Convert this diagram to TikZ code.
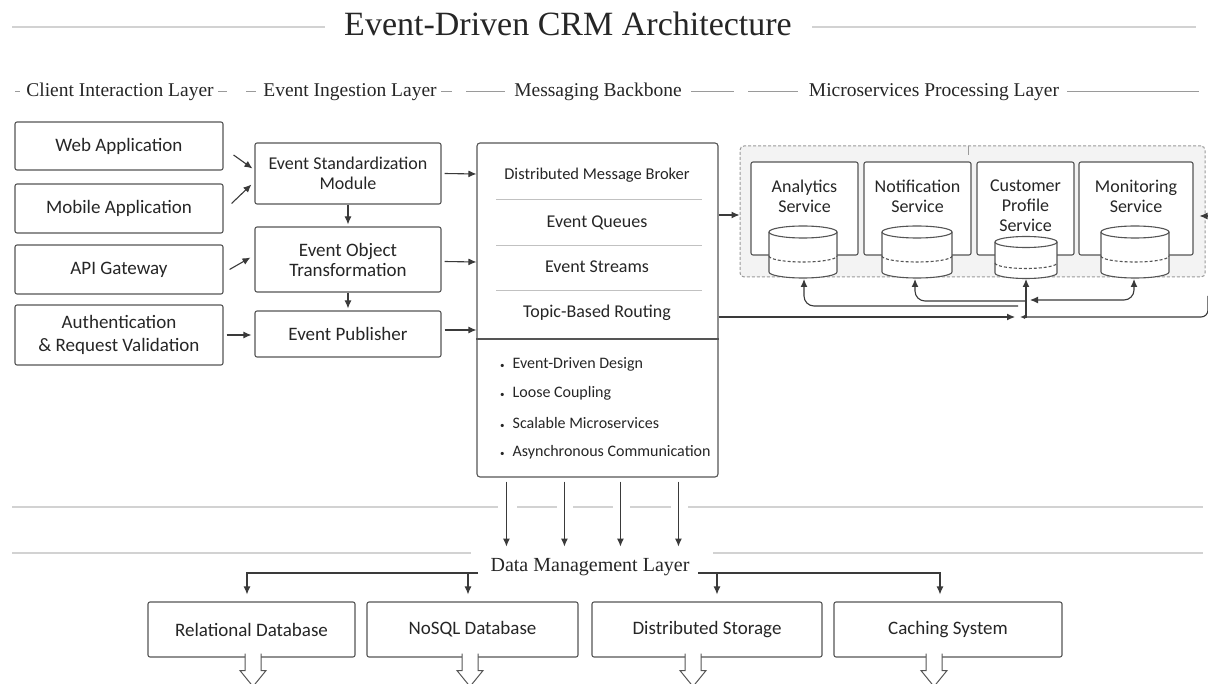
\documentclass[tikz,border=0pt]{standalone}
\usepackage{fontspec}
\setmainfont{Carlito}
\newfontfamily\hdfont{Liberation Serif}
\usetikzlibrary{arrows.meta,calc}
\definecolor{boxc}{HTML}{555555}
\definecolor{txtc}{HTML}{262626}
\definecolor{arrc}{HTML}{3A3A3A}
\definecolor{rulec}{HTML}{D2D2D2}
\definecolor{dashc}{HTML}{9A9A9A}
\definecolor{contfill}{HTML}{F3F3F3}
\newcommand{\mycyl}[6]{% cx, rx, ytop, ry, ydash, ybot
 \fill[white] (#1-#2,#3) rectangle (#1+#2,#6);
 \fill[white] (#1,#6) ellipse[x radius=#2, y radius=#4];
 \draw[cylline] (#1-#2,#3) -- (#1-#2,#6) arc[start angle=180,end angle=0,x radius=#2,y radius=#4] -- (#1+#2,#3);
 \draw[cylline, dash pattern=on 3pt off 2pt] (#1-#2,#5) arc[start angle=180,end angle=0,x radius=#2,y radius=#4];
 \draw[cylline, fill=white] (#1,#3) ellipse[x radius=#2, y radius=#4];
}
\begin{document}
\begin{tikzpicture}[x=1pt,y=-1pt,
  box/.style={draw=boxc, line width=1.1pt, rounded corners=2pt, fill=white, text=txtc,
     font=\fontsize{19}{20}\selectfont, align=center, inner sep=0pt},
  svc/.style={draw=boxc, line width=1.1pt, rounded corners=2pt, fill=white, inner sep=0pt},
  svctxt/.style={text=txtc, font=\fontsize{18}{20}\selectfont, align=center, inner sep=0pt},
  brk/.style={text=txtc, font=\fontsize{18}{20}\selectfont, inner sep=0pt},
  bul/.style={text=txtc, font=\fontsize{16}{18}\selectfont, inner sep=0pt, anchor=west},
  hd/.style={text=txtc, font=\hdfont\fontsize{19.5}{22}\selectfont, inner sep=0pt, anchor=base},
  cylline/.style={draw=boxc, line width=1.1pt},
  arr/.style={draw=arrc, line width=1.1pt, -{Latex[length=8pt,width=7pt]}},
  arrboth/.style={draw=arrc, line width=1.1pt, {Latex[length=8pt,width=7pt]}-{Latex[length=8pt,width=7pt]}},
  rule/.style={draw=rulec, line width=1.3pt},
  hdash/.style={draw=dashc, line width=1pt},
  harrow/.pic={\draw[fill=white, draw=boxc, line width=1pt] (-8,-4) -- (-8,13) -- (-13,13) -- (0,29) -- (13,13) -- (8,13) -- (8,-4);}
]
\useasboundingbox (0,0) rectangle (1208,684);
\fill[white] (0,0) rectangle (1208,684);

% title
\node[text=txtc, font=\hdfont\fontsize{34}{40}\selectfont, inner sep=0pt, anchor=base] (title) at (568,36) {Event-Driven CRM Architecture};
\draw[rule] (12,27) -- (325,27);
\draw[rule] (812,27) -- (1196,27);

% layer headers
\node[hd] (h1) at (120,97) {Client Interaction Layer};
\node[hd] (h2) at (350,97) {Event Ingestion Layer};
\node[hd] (h3) at (598,97) {Messaging Backbone};
\node[hd] (h4) at (934,97) {Microservices Processing Layer};
\draw[hdash] (15,92) -- (20,92); \draw[hdash] (218,92) -- (227,92);
\draw[hdash] (246,92) -- (256,92); \draw[hdash] (441,92) -- (452,92);
\draw[hdash] (466,92) -- (505,92); \draw[hdash] (691,92) -- (734,92);
\draw[hdash] (748,92) -- (798,92); \draw[hdash] (1067,92) -- (1199,92);

% client column
\node[box, minimum width=208pt, minimum height=48pt] (web) at (119,146) {Web Application};
\node[box, minimum width=208pt, minimum height=49pt] (mob) at (119,208.5) {Mobile Application};
\node[box, minimum width=208pt, minimum height=49pt] (api) at (119,269.5) {API Gateway};
\node[box, minimum width=208pt, minimum height=60pt, font=\fontsize{19}{23}\selectfont] (auth) at (119,335) {Authentication\\\& Request Validation};

% ingestion column
\node[box, minimum width=186pt, minimum height=61pt, font=\fontsize{18}{20}\selectfont] (esm) at (348,173.5) {Event Standardization\\Module};
\node[box, minimum width=186pt, minimum height=65pt] (eot) at (348,259.5) {Event Object\\Transformation};
\node[box, minimum width=186pt, minimum height=46pt] (pub) at (348,334) {Event Publisher};

\draw[arr] ($(web.east)+(10,9)$) -- ($(esm.west)+(-2,-5)$);
\draw[arr] ($(mob.east)+(8,-5)$) -- ($(esm.west)+(-3,11)$);
\draw[arr] ($(api.east)+(6,0)$) -- ($(eot.west)+(-4,-2)$);
\draw[arr] ($(auth.east)+(3,0)$) -- ($(pub.west)+(-3,1)$);
\draw[arr] (esm.south) -- ($(eot.north)+(0,-2)$);
\draw[arr] (eot.south) -- ($(pub.north)+(0,-2)$);

% broker
\node[box, rounded corners=3pt, minimum width=241pt, minimum height=334pt] (broker) at (597.5,310) {};
\draw[draw=rulec!80!gray, line width=0.9pt] (496,199) -- (702,199);
\draw[draw=rulec!80!gray, line width=0.9pt] (496,245) -- (702,245);
\draw[draw=rulec!80!gray, line width=0.9pt] (496,290) -- (702,290);
\draw[draw=boxc, line width=1.1pt] (broker.west |- 0,339) -- (broker.east |- 0,339);
\node[brk, font=\fontsize{16.5}{20}\selectfont] (b1) at (597,175) {Distributed Message Broker};
\node[brk] (b2) at (597,223) {Event Queues};
\node[brk] (b3) at (597,267) {Event Streams};
\node[brk] (b4) at (597,313) {Topic-Based Routing};
\node[bul] (u1) at (500,364) {{\fontsize{9}{9}\selectfont•}\hspace{8pt}Event-Driven Design};
\node[bul] (u2) at (500,393) {{\fontsize{9}{9}\selectfont•}\hspace{8pt}Loose Coupling};
\node[bul] (u3) at (500,423) {{\fontsize{9}{9}\selectfont•}\hspace{8pt}Scalable Microservices};
\node[bul] (u4) at (500,452) {{\fontsize{9}{9}\selectfont•}\hspace{8pt}Asynchronous Communication};

\draw[arr] ($(esm.east)+(3,0)$) -- (broker.west |- 0,174);
\draw[arr] ($(eot.east)+(3,2)$) -- (broker.west |- 0,262);
\draw[arr] ($(pub.east)+(3,-4)$) -- (broker.west |- 0,330);

% microservices container
\node[draw=dashc, dash pattern=on 3pt off 2pt, line width=1pt, fill=contfill, rounded corners=4pt,
  minimum width=465pt, minimum height=131pt, inner sep=0pt] (cont) at (972.5,211.5) {};
\draw[draw=dashc, line width=0.7pt] (968,146) -- (968,155);

\node[svc, minimum width=107pt, minimum height=93pt] (ana) at (804.5,208.5) {};
\node[svc, minimum width=107pt, minimum height=93pt] (not) at (917.5,208.5) {};
\node[svc, minimum width=97pt, minimum height=93pt] (cus) at (1025.5,208.5) {};
\node[svc, minimum width=114pt, minimum height=93pt] (mon) at (1136,208.5) {};
\node[svctxt] (anat) at (804.5,196) {Analytics\\Service};
\node[svctxt] (nott) at (917.5,196) {Notification\\Service};
\node[svctxt] (cust) at (1025.5,206) {Customer\\Profile\\Service};
\node[svctxt] (mont) at (1136,196) {Monitoring\\Service};

\mycyl{803}{34}{232}{6}{256}{272}
\mycyl{917}{35}{232}{6}{256}{272}
\mycyl{1026}{31}{242}{5.5}{263}{273}
\mycyl{1135}{34}{232}{6}{256}{272}
\coordinate (anadb) at (804,279);
\coordinate (notdb) at (915,279);
\coordinate (cusdb) at (1026,279);
\coordinate (mondb) at (1134,279);

\draw[arr] (broker.east |- 0,215) -- (cont.west |- 0,215);
\draw[arr] (1216,216) -- ($(cont.east |- 0,216)+(-6,0)$);

\coordinate (hub) at (1026,318);
\draw[arr] (broker.east |- 0,317) -- (1015,317);
\draw[arr, -{Latex[length=5pt,width=4pt]}, rounded corners=7pt] (1208,296) -- (1208,317) -- (1020,317);
\draw[arr] (hub) -- (cusdb);
\draw[arr, rounded corners=10pt] (1018,306) -- (anadb |- 0,306) -- (anadb);
\draw[arr, rounded corners=10pt] (1026,301) -- (notdb |- 0,301) -- (notdb);
\draw[arrboth, rounded corners=10pt] (1030,300) -- (mondb |- 0,300) -- (mondb);

% broker down arrows and rules
\draw[rule] (12,507) -- (498,507);
\draw[rule] (517,507) -- (557,507);
\draw[rule] (573,507) -- (613,507);
\draw[rule] (630,507) -- (671,507);
\draw[rule] (688,507) -- (1203,507);
\draw[rule] (12,553) -- (471,553);
\draw[rule] (713,553) -- (1203,553);
\foreach \dx in {30,88,144,202}
  \draw[arr] ($(broker.south west)+(\dx,4)$) -- ++(0,65);

% data management layer
\node[hd, font=\hdfont\fontsize{20}{24}\selectfont] (dml) at (590,571) {Data Management Layer};
\node[box, minimum width=207pt, minimum height=55pt] (rel) at (251.5,629.5) {Relational Database};
\node[box, minimum width=211pt, minimum height=55pt] (nos) at (472.5,629.5) {NoSQL Database};
\node[box, minimum width=230pt, minimum height=55pt] (dis) at (707,629.5) {Distributed Storage};
\node[box, minimum width=228pt, minimum height=55pt] (cac) at (948,629.5) {Caching System};

\coordinate (dl) at (478,573);
\coordinate (dr) at (698,573);
\draw[arr] (dl) -| ($(rel.north)+(-4.5,-7)$);
\draw[arr] ($(nos.north)+(-4.5,-29)$) -- ($(nos.north)+(-4.5,-7)$);
\draw[arr] (dr) -| ($(cac.north)+(-8,-7)$);
\draw[arr] ($(dis.north)+(10,-29)$) -- ($(dis.north)+(10,-7)$);

\pic at ($(rel.south)+(1.5,0)$) {harrow};
\pic at ($(nos.south)+(-2.5,0)$) {harrow};
\pic at ($(dis.south)+(-14,0)$) {harrow};
\pic at ($(cac.south)+(-14,0)$) {harrow};
\end{tikzpicture}
\end{document}
